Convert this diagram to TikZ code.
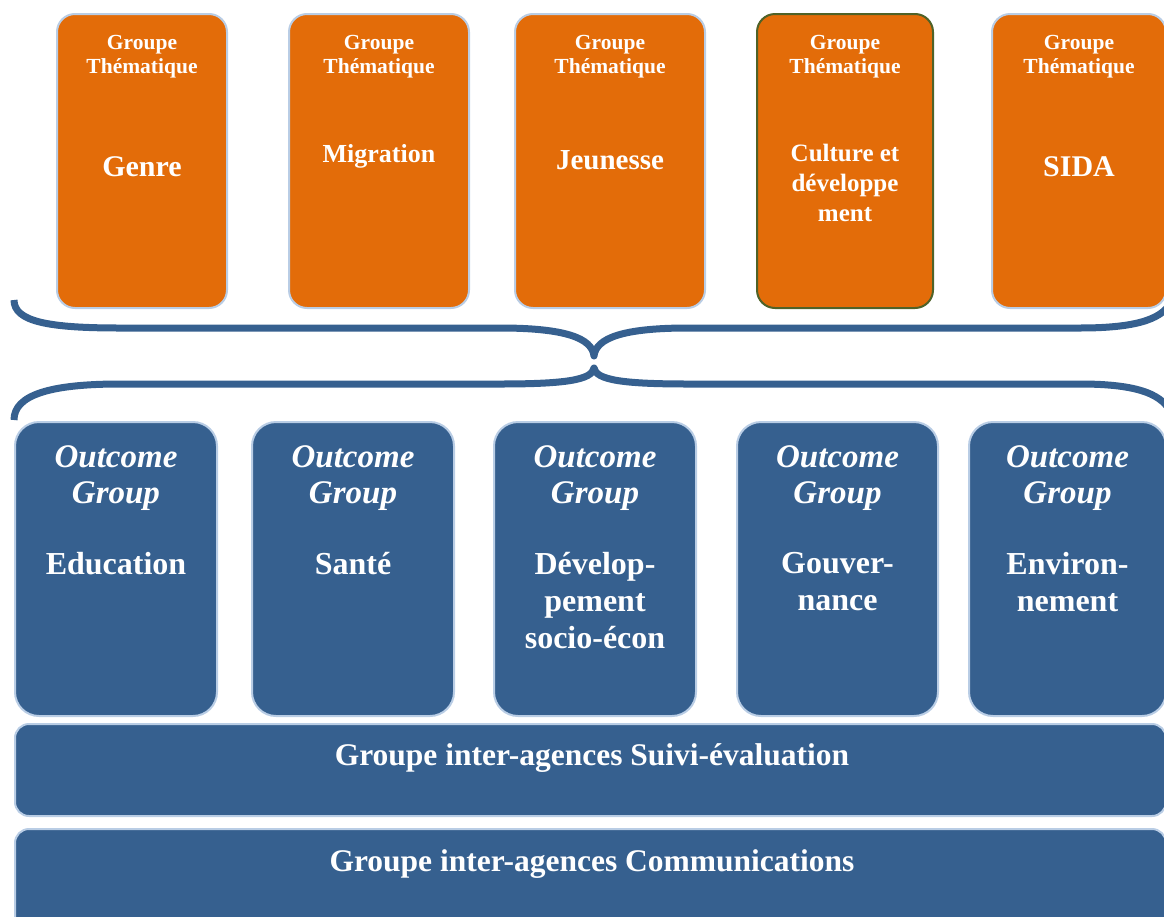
\documentclass[tikz,border=0pt]{standalone}
\usepackage{fontspec}
\setmainfont{Liberation Serif}

\definecolor{themeorange}{HTML}{E36C09}
\definecolor{outcomeblue}{HTML}{36608F}
\definecolor{paleblue}{HTML}{B9CDE5}
\definecolor{olivedark}{HTML}{4F6228}

\begin{document}
\begin{tikzpicture}[x=1pt, y=-1pt, line join=round]
    \tikzstyle{group box}=[rectangle, draw=paleblue, line width=2pt, inner sep=0pt]
    \tikzstyle{theme box}=[group box, fill=themeorange, rounded corners=18pt, minimum height=294pt]
    \tikzstyle{outcome box}=[group box, fill=outcomeblue, rounded corners=24pt, minimum height=294pt]
    \tikzstyle{agency box}=[group box, fill=outcomeblue, rounded corners=14pt, minimum width=1151pt]
    \tikzstyle{box text}=[text=white, font=\bfseries, align=center, anchor=north, inner sep=0pt]
    \tikzstyle{brace}=[draw=outcomeblue, line width=7pt]

    \useasboundingbox (0,0) rectangle (1164,916);
    \clip (0,0) rectangle (1164,916);

    % Draw the thematic groups
    \foreach \name / \xl / \xr / \rim / \ytop / \sz / \lead / \lbl in
        {1/57/227/paleblue/156/30/36/Genre,
         2/289/469/paleblue/144/26/31/Migration,
         3/515/705/paleblue/150/29/34/Jeunesse,
         4/757/933/olivedark/144/25/30/{Culture et\\développe\\ment},
         5/992/1166/paleblue/156/30/36/SIDA}
    {
        \node[theme box, draw=\rim, minimum width={(\xr-\xl)*1pt}] (T-\name) at ({(\xl+\xr)/2}, 161) {};
        \node[box text, font=\bfseries\fontsize{21.5}{24}\selectfont] (T-\name-head) at ({(\xl+\xr)/2}, 35) {Groupe\\Thématique};
        \node[box text, font=\bfseries\fontsize{\sz}{\lead}\selectfont] (T-\name-label) at ({(\xl+\xr)/2}, \ytop) {\lbl};
    }

    % Draw the two braces between the rows
    \draw[brace] (14,300) .. controls (14,322) and (50,328) .. (120,328) -- (500,328)
        .. controls (565,328) and (592,338) .. (594,356)
        .. controls (596,338) and (623,328) .. (688,328) -- (1080,328)
        .. controls (1140,328) and (1164,318) .. (1172,300);
    \draw[brace] (14,420) .. controls (14,395) and (50,384) .. (120,384) -- (500,384)
        .. controls (565,384) and (592,380) .. (594,368)
        .. controls (596,380) and (623,384) .. (688,384) -- (1080,384)
        .. controls (1140,384) and (1164,395) .. (1172,415);

    % Draw the outcome groups
    \foreach \name / \xl / \xr / \lbl in
        {1/15/217/Education,
         2/252/454/Santé,
         3/494/696/{Dévelop-\\pement\\socio-écon},
         4/737/938/{Gouver-\\nance},
         5/969/1166/{Environ-\\nement}}
    {
        \node[outcome box, minimum width={(\xr-\xl)*1pt}] (O-\name) at ({(\xl+\xr)/2}, 569) {};
        \node[box text, font=\bfseries\itshape\fontsize{33}{36}\selectfont] (O-\name-head) at ({(\xl+\xr)/2}, 445) {Outcome\\Group};
        \node[box text, font=\bfseries\fontsize{32}{37}\selectfont] (O-\name-label) at ({(\xl+\xr)/2}, 552) {\lbl};
    }

    % Draw the inter-agency groups
    \node[agency box, minimum height=92pt] (SE) at (590.5,770) {};
    \node[box text, font=\bfseries\fontsize{31.5}{34}\selectfont] (SE-label) at (592,743) {Groupe inter-agences Suivi-évaluation};
    \node[agency box, minimum height=100pt] (COM) at (590.5,879) {};
    \node[box text, font=\bfseries\fontsize{31.5}{34}\selectfont] (COM-label) at (592,849) {Groupe inter-agences Communications};

\end{tikzpicture}
\end{document}
